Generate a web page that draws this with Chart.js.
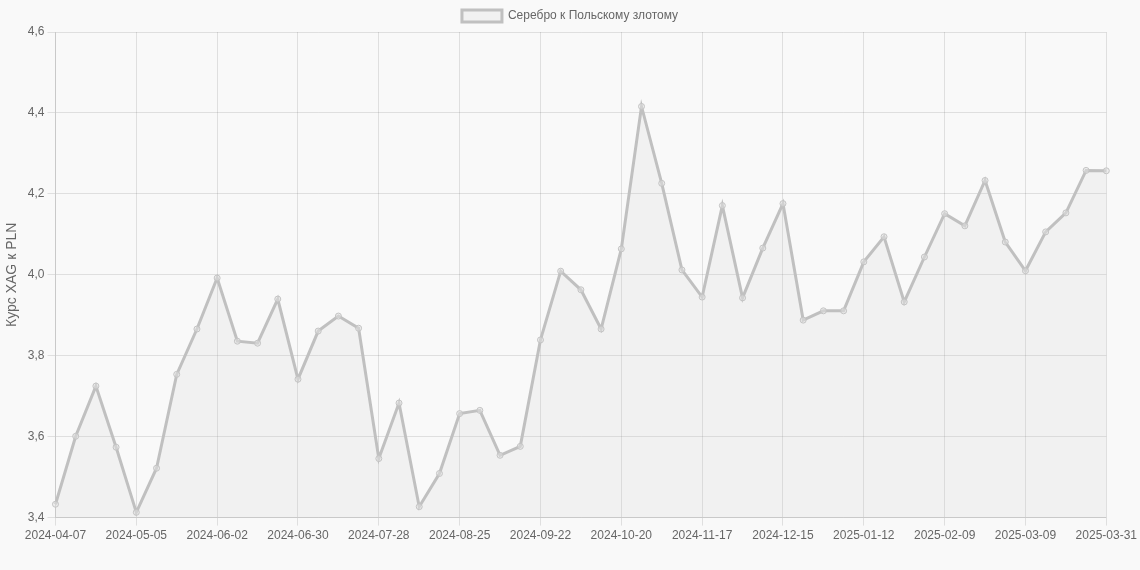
<!DOCTYPE html>
<html>
<head>
<meta charset="utf-8">
<script src="https://cdn.jsdelivr.net/npm/chart.js@4"></script>
<style>
  html, body { margin: 0; padding: 0; background: #f9f9f9; }
  #wrap { width: 1140px; height: 570px; }
</style>
</head>
<body>
<div id="wrap"><canvas id="silverChart"></canvas></div>
<script>
const dates = [
  '2024-04-07', '2024-04-14', '2024-04-21', '2024-04-28', '2024-05-05', '2024-05-12', '2024-05-19', '2024-05-26',
  '2024-06-02', '2024-06-09', '2024-06-16', '2024-06-23', '2024-06-30', '2024-07-07', '2024-07-14', '2024-07-21',
  '2024-07-28', '2024-08-04', '2024-08-11', '2024-08-18', '2024-08-25', '2024-09-01', '2024-09-08', '2024-09-15',
  '2024-09-22', '2024-09-29', '2024-10-06', '2024-10-13', '2024-10-20', '2024-10-27', '2024-11-03', '2024-11-10',
  '2024-11-17', '2024-11-24', '2024-12-01', '2024-12-08', '2024-12-15', '2024-12-22', '2024-12-29', '2025-01-05',
  '2025-01-12', '2025-01-19', '2025-01-26', '2025-02-02', '2025-02-09', '2025-02-16', '2025-02-23', '2025-03-02',
  '2025-03-09', '2025-03-16', '2025-03-23', '2025-03-30', '2025-03-31'
];
const rates = [
  3.433, 3.601, 3.725, 3.574, 3.413, 3.522, 3.754, 3.866,
  3.992, 3.836, 3.831, 3.940, 3.742, 3.861, 3.898, 3.868,
  3.546, 3.683, 3.427, 3.509, 3.657, 3.665, 3.554, 3.576,
  3.839, 4.009, 3.963, 3.866, 4.064, 4.416, 4.226, 4.012,
  3.945, 4.171, 3.943, 4.066, 4.176, 3.888, 3.911, 3.911,
  4.032, 4.094, 3.933, 4.044, 4.151, 4.121, 4.233, 4.081,
  4.010, 4.106, 4.153, 4.258, 4.257
];
const seriesName = 'Серебро к Польскому злотому';
const yTitle = 'Курс XAG к PLN';

new Chart(document.getElementById('silverChart'), {
  type: 'line',
  data: {
    labels: dates,
    datasets: [{
      label: seriesName,
      data: rates,
      borderColor: 'rgb(192,192,192)',
      backgroundColor: 'rgba(192,192,192,0.15)',
      pointBackgroundColor: 'rgba(225,225,225,0.5)',
      pointBorderColor: 'rgb(195,195,195)',
      pointBorderWidth: 1,
      borderWidth: 3,
      pointRadius: 3,
      tension: 0,
      fill: true
    }]
  },
  options: {
    responsive: true,
    maintainAspectRatio: false,
    animation: false,
    layout: { padding: { bottom: 24 } },
    plugins: {
      legend: {
        labels: { color: '#666', boxWidth: 40 }
      }
    },
    scales: {
      x: {
        afterBuildTicks: (scale) => {
          scale.ticks = scale.ticks.filter((t, i) => i % 4 === 0);
        },
        ticks: { autoSkip: false, maxRotation: 0, color: '#666' }
      },
      y: {
        min: 3.4,
        max: 4.6,
        title: { display: true, text: yTitle, color: '#666', font: { size: 14 } },
        ticks: {
          stepSize: 0.2,
          color: '#666',
          callback: (v) => v.toFixed(1).replace('.', ',')
        }
      }
    }
  }
});
</script>
</body>
</html>
